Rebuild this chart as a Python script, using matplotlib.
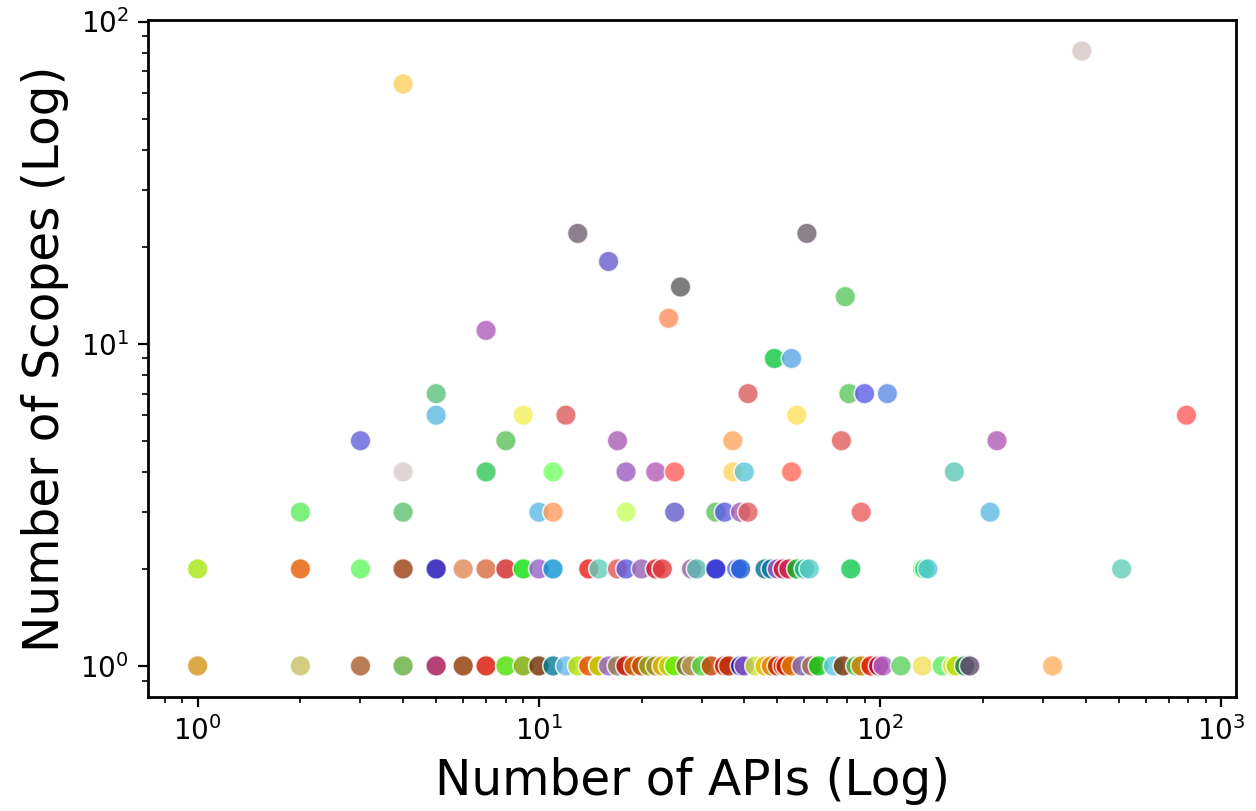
import numpy as np
import matplotlib.pyplot as plt

# number of APIs / number of scopes per service, colour per service
apis_high = [4, 390, 13, 61, 16, 26, 24, 7, 79, 49, 55,
             5, 41, 81, 90, 105,
             5, 9, 12, 57, 790,
             3, 8, 17, 37, 77, 220,
             4, 7, 11, 18, 22, 25, 37, 40, 55, 165,
             2, 4, 10, 11, 18, 25, 33, 35, 39, 41, 88, 210]
scopes_high = [64, 81, 22, 22, 18, 15, 12, 11, 14, 9, 9,
               7, 7, 7, 7, 7,
               6, 6, 6, 6, 6,
               5, 5, 5, 5, 5, 5,
               4, 4, 4, 4, 4, 4, 4, 4, 4, 4,
               3, 3, 3, 3, 3, 3, 3, 3, 3, 3, 3, 3]
colors_high = ['#ffd060', '#d9c6c6', '#6f606f', '#6f606f', '#695ccd', '#5c5c5c',
               '#ff8e5c', '#ae5cba', '#5cc75c', '#0bc73d', '#5ca7e6',
               '#5cc17c', '#dd5c5c', '#5cc75c', '#5c5ce6', '#5c8ee6',
               '#5cbae0', '#f2f25c', '#dd5c5c', '#ffe05c', '#ff5c5c',
               '#6262da', '#5cc15c', '#a75cb4', '#ffa75c', '#e25c5c', '#ae5cb4',
               '#d9cccc', '#31c756', '#75ff63', '#9b5cc1', '#b45cba', '#ff5c5c',
               '#ffd45c', '#5cc7da', '#ff695c', '#5cc7b4',
               '#5cec5c', '#5cc16f', '#5cbae6', '#ff9a5c', '#c7ff5c', '#625cc7',
               '#5cc15c', '#5c5ce6', '#a75cb4', '#e25c5c', '#ec5c5c', '#5cbae6']

apis_two = [1, 2, 3, 4, 5, 6, 7, 8, 9, 10, 11, 14, 15, 17, 18, 20, 22, 23,
            28, 29, 33, 38, 39, 46, 48, 50, 52, 54, 57, 60, 62, 82, 133, 135,
            138, 510]
colors_two = ['#a8e612', '#e65c00', '#62f862', '#9b3d12', '#1a0ab4', '#e08856',
              '#d9693d', '#d32424', '#0be00b', '#9563c7', '#0b95d3', '#e61e18',
              '#63cdba', '#e05656', '#5a5ae0', '#9563b4', '#d31e2c', '#e03c3c',
              '#8f63a0', '#5abaae', '#1010cc', '#4f63e0', '#1f5ed9', '#006f88',
              '#0a7aa0', '#a156b9', '#d3122c', '#d32456', '#0bba24', '#18ba94',
              '#5acdc8', '#12c750', '#5cf25c', '#0bd94a', '#5cc7e0', '#63cdba']

apis_one = [1, 2, 3, 4, 5, 6, 7, 8, 9, 10, 11, 12, 13, 14, 15, 15, 16, 17,
            18, 19, 20, 21, 22, 23, 24, 25, 27, 28, 30, 32, 35, 36, 39, 40,
            43, 46, 48, 50, 52, 53, 55, 59, 63, 66, 73, 78, 85, 88, 94, 99,
            102, 115, 133, 152, 163, 167, 177, 183, 320]
colors_one = ['#d19518', '#c7c163', '#a75c2a', '#63ae3d', '#a11250', '#8f3700',
              '#d91200', '#4ae000', '#7ca800', '#6f2a00', '#007c95', '#6fbaec',
              '#bae000', '#e64a00', '#e0300a', '#c7e000', '#9563d3', '#957f4f',
              '#c61203', '#d36300', '#ba4f00', '#8ea212', '#a18e24', '#e0b400',
              '#bad300', '#62ec00', '#7c5e24', '#ba9a56', '#4fd33d', '#c63d00',
              '#d3120b', '#ba3000', '#0012c6', '#8856b9', '#c6e036', '#ecba00',
              '#e07c0b', '#ba3000', '#e01200', '#d32400', '#e07c00', '#7c63b4',
              '#a1704a', '#0bc70b', '#5cc7e0', '#6f3000', '#4fc74a', '#d37c00',
              '#e61800', '#ad0050', '#ad63c7', '#5cd35c', '#f2e05c', '#5cec5c',
              '#ece03d', '#adde00', '#0b7c4a', '#634a6f', '#ffb062']

x = apis_one + apis_two + apis_high
y = [1] * len(apis_one) + [2] * len(apis_two) + scopes_high
c = colors_one + colors_two + colors_high

fig = plt.figure(figsize=(6.28, 4.055), dpi=200)
ax = fig.add_axes([0.118, 0.141, 0.866, 0.834])
ax.scatter(x, y, c=c, s=55, alpha=0.8, edgecolors='white', linewidths=0.6)
ax.set_xscale('log')
ax.set_yscale('log')
ax.set_xlabel('Number of APIs (Log)', fontsize=17.5)
ax.set_ylabel('Number of Scopes (Log)', fontsize=17.5)
for sp in ax.spines.values():
    sp.set_linewidth(1.0)

fig.savefig('out.png', dpi=200)
